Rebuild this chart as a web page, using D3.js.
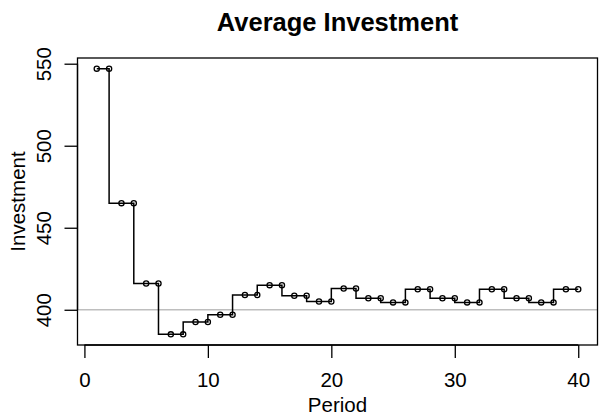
<!DOCTYPE html>
<html>
<head>
<meta charset="utf-8">
<script src="https://cdn.jsdelivr.net/npm/d3@7"></script>
<style>
  body { margin: 0; background: #fff; }
  text { font-family: "Liberation Sans", Arial, sans-serif; }
</style>
</head>
<body>
<div id="chart"></div>
<script>
// data
var periods = d3.range(1, 41);
var investment = [547, 547, 465, 465, 416, 416, 385, 385, 392.5, 392.5,
                  397, 397, 409, 409, 415, 415, 408.5, 408.5, 405, 405,
                  413, 413, 407, 407, 404.5, 404.5, 412.5, 412.5, 407, 407,
                  404.5, 404.5, 412.5, 412.5, 407, 407, 404.5, 404.5, 412.5, 412.5];
var xTicks = [0, 10, 20, 30, 40];
var yTicks = [400, 450, 500, 550];
var refLevel = 400;

var width = 600
var height = 420
var box = {left: 77.5, right: 597.5, top: 58, bottom: 345}

var svg = d3.select("#chart")
    .append("svg")
    .attr("width", width)
    .attr("height", height)

// R style axis extension (4%)
function pad(ext) {
    var d = (ext[1] - ext[0]) * 0.04
    return [ext[0] - d, ext[1] + d]
}

var x = d3.scaleLinear()
    .domain(pad(d3.extent(periods)))
    .range([box.left, box.right])

var y = d3.scaleLinear()
    .domain(pad(d3.extent(investment)))
    .range([box.bottom, box.top])

var pts = periods.map(function(p, i) { return [p, investment[i]] })

// reference line
svg.append("line")
    .attr("x1", box.left).attr("x2", box.right)
    .attr("y1", y(refLevel)).attr("y2", y(refLevel))
    .attr("stroke", "#bebebe")
    .attr("stroke-width", 1.5)

// step line
var line = d3.line()
    .x(function(d) { return x(d[0]) })
    .y(function(d) { return y(d[1]) })
    .curve(d3.curveStepBefore)

svg.append("path")
    .datum(pts)
    .attr("d", line)
    .attr("fill", "none")
    .attr("stroke", "#000")
    .attr("stroke-width", 1.5)

svg.append("g")
    .selectAll("circle")
    .data(pts)
    .join("circle")
    .attr("cx", function(d) { return x(d[0]) })
    .attr("cy", function(d) { return y(d[1]) })
    .attr("r", 2.6)
    .attr("fill", "none")
    .attr("stroke", "#000")
    .attr("stroke-width", 1.3)

// box
svg.append("rect")
    .attr("x", box.left).attr("y", box.top)
    .attr("width", box.right - box.left)
    .attr("height", box.bottom - box.top)
    .attr("fill", "none")
    .attr("stroke", "#000")
    .attr("stroke-width", 1.3)

// axes
var xAxis = d3.axisBottom(x).tickValues(xTicks).tickSize(13).tickPadding(14)
var gx = svg.append("g")
    .attr("transform", "translate(0," + box.bottom + ")")
    .call(xAxis)
gx.select(".domain").attr("d", "M" + x(xTicks[0]) + ",0H" + x(xTicks[xTicks.length - 1]))
gx.selectAll("line, path").attr("stroke", "#000").attr("stroke-width", 1.3)
gx.selectAll("text").attr("font-size", 20.5).attr("fill", "#000")
    .attr("font-family", "Liberation Sans, Arial, sans-serif")

var yAxis = d3.axisLeft(y).tickValues(yTicks).tickSize(13).tickPadding(14)
var gy = svg.append("g")
    .attr("transform", "translate(" + box.left + ",0)")
    .call(yAxis)
gy.select(".domain").attr("d", "M0," + y(yTicks[0]) + "V" + y(yTicks[yTicks.length - 1]))
gy.selectAll("line, path").attr("stroke", "#000").attr("stroke-width", 1.3)
gy.selectAll("text")
    .attr("font-size", 20.5).attr("fill", "#000")
    .attr("font-family", "Liberation Sans, Arial, sans-serif")
    .attr("x", null).attr("dy", null)
    .attr("text-anchor", "middle")
    .attr("transform", "translate(-27,0) rotate(-90)")

// titles
svg.append("text")
    .attr("x", (box.left + box.right) / 2)
    .attr("y", 31)
    .attr("text-anchor", "middle")
    .attr("font-size", 25.5)
    .attr("font-weight", "bold")
    .text("Average Investment")

svg.append("text")
    .attr("x", (box.left + box.right) / 2)
    .attr("y", 411.5)
    .attr("text-anchor", "middle")
    .attr("font-size", 20.5)
    .text("Period")

svg.append("text")
    .attr("transform", "translate(25," + (box.top + box.bottom) / 2 + ") rotate(-90)")
    .attr("text-anchor", "middle")
    .attr("font-size", 20.5)
    .text("Investment")
</script>
</body>
</html>
